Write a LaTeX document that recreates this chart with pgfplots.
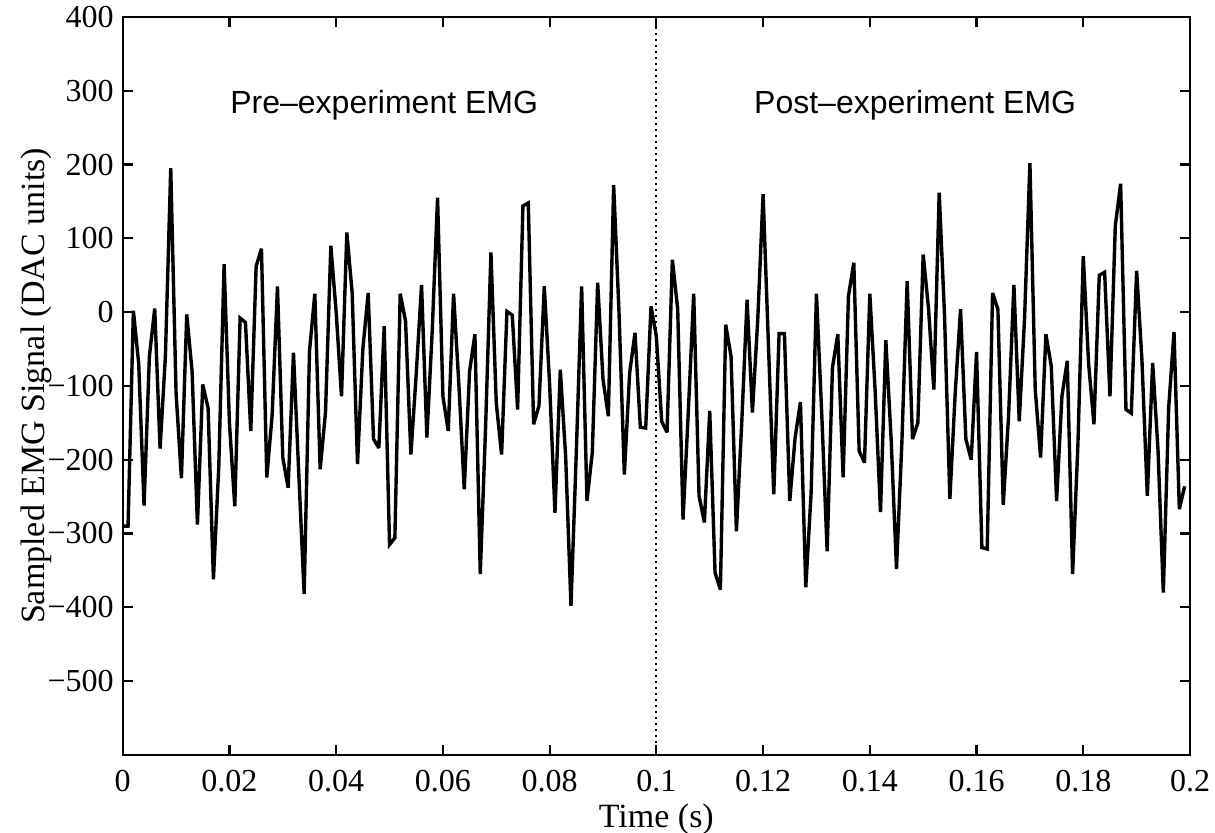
\documentclass[border=0pt]{standalone}
\usepackage{pgfplots}
\pgfplotsset{compat=1.18}
\usepackage{pgfplotstable}
\usepackage{fontspec}
\setmainfont{Liberation Serif}
\newfontfamily\helv{Liberation Sans}
\pgfplotstableread{
t y
0.000 -290
0.001 -290
0.002 2
0.003 -70
0.004 -262
0.005 -60
0.006 5
0.007 -185
0.008 -60
0.009 195
0.010 -110
0.011 -225
0.012 -3
0.013 -80
0.014 -288
0.015 -98
0.016 -130
0.017 -362
0.018 -210
0.019 65
0.020 -150
0.021 -263
0.022 -8
0.023 -14
0.024 -161
0.025 62
0.026 86
0.027 -224
0.028 -140
0.029 35
0.030 -197
0.031 -238
0.032 -55
0.033 -220
0.034 -382
0.035 -53
0.036 25
0.037 -213
0.038 -136
0.039 90
0.040 0
0.041 -114
0.042 108
0.043 26
0.044 -206
0.045 -50
0.046 26
0.047 -172
0.048 -184
0.049 -19
0.050 -315
0.051 -306
0.052 25
0.053 -12
0.054 -193
0.055 -84
0.056 37
0.057 -170
0.058 -25
0.059 155
0.060 -114
0.061 -161
0.062 25
0.063 -99
0.064 -240
0.065 -80
0.066 -30
0.067 -355
0.068 -156
0.069 81
0.070 -123
0.071 -193
0.072 1
0.073 -4
0.074 -132
0.075 144
0.076 148
0.077 -152
0.078 -127
0.079 35
0.080 -98
0.081 -272
0.082 -78
0.083 -195
0.084 -398
0.085 -190
0.086 35
0.087 -256
0.088 -190
0.089 40
0.090 -91
0.091 -141
0.092 172
0.093 0
0.094 -220
0.095 -82
0.096 -28
0.097 -156
0.098 -157
0.099 8
0.100 -33
0.101 -148
0.102 -163
0.103 71
0.104 4
0.105 -281
0.106 -133
0.107 25
0.108 -249
0.109 -285
0.110 -134
0.111 -353
0.112 -376
0.113 -17
0.114 -60
0.115 -297
0.116 -150
0.117 17
0.118 -136
0.119 -10
0.120 160
0.121 -44
0.122 -247
0.123 -29
0.124 -29
0.125 -256
0.126 -170
0.127 -122
0.128 -373
0.129 -245
0.130 25
0.131 -139
0.132 -324
0.133 -75
0.134 -30
0.135 -224
0.136 22
0.137 67
0.138 -188
0.139 -204
0.140 25
0.141 -107
0.142 -271
0.143 -38
0.144 -173
0.145 -348
0.146 -178
0.147 42
0.148 -172
0.149 -150
0.150 78
0.151 5
0.152 -105
0.153 162
0.154 -4
0.155 -253
0.156 -110
0.157 4
0.158 -172
0.159 -200
0.160 -54
0.161 -319
0.162 -321
0.163 26
0.164 4
0.165 -261
0.166 -141
0.167 37
0.168 -148
0.169 -8
0.170 202
0.171 -105
0.172 -197
0.173 -30
0.174 -73
0.175 -256
0.176 -114
0.177 -66
0.178 -355
0.179 -178
0.180 76
0.181 -70
0.182 -152
0.183 50
0.184 54
0.185 -114
0.186 117
0.187 174
0.188 -132
0.189 -137
0.190 56
0.191 -66
0.192 -249
0.193 -69
0.194 -186
0.195 -380
0.196 -130
0.197 -27
0.198 -267
0.199 -236
}\emg
\begin{document}
\begin{tikzpicture}
\useasboundingbox (-61.35pt,-38.65pt) rectangle (546.1pt,377.4pt);
\begin{axis}[
  at={(0pt,0pt)}, anchor=south west,
  scale only axis,
  width=533.6pt, height=368.9pt,
  xmin=0, xmax=0.2, ymin=-600, ymax=400,
  xtick={0,0.02,0.04,0.06,0.08,0.1,0.12,0.14,0.16,0.18,0.2},
  xticklabels={0,0.02,0.04,0.06,0.08,0.1,0.12,0.14,0.16,0.18,0.2},
  ytick={-500,-400,-300,-200,-100,0,100,200,300,400},
  yticklabels={−500,−400,−300,−200,−100,0,100,200,300,400},
  tick align=inside,
  major tick length=5pt,
  axis line style={line width=1.2pt},
  every tick/.style={line width=1.1pt, black},
  ticklabel style={font=\fontsize{16}{18}\selectfont},
  xticklabel style={yshift=-4pt},
  yticklabel style={xshift=-1pt},
  xlabel={Time (s)},
  ylabel={Sampled EMG Signal (DAC units)},
  label style={font=\fontsize{17}{19}\selectfont},
  xlabel style={yshift=1pt},
  ylabel style={yshift=-9pt},
  clip=true,
]
\addplot[black, line width=1.7pt, line join=miter, miter limit=3] table[x=t, y=y] {\emg};
\addplot[black, dotted, line width=1pt] coordinates {(0.1,-600) (0.1,400)};
\node[font=\helv\fontsize{16}{18}\selectfont] at (axis cs:0.049,280) {Pre–experiment EMG};
\node[font=\helv\fontsize{16}{18}\selectfont] at (axis cs:0.1485,280) {Post–experiment EMG};
\end{axis}
\end{tikzpicture}
\end{document}
